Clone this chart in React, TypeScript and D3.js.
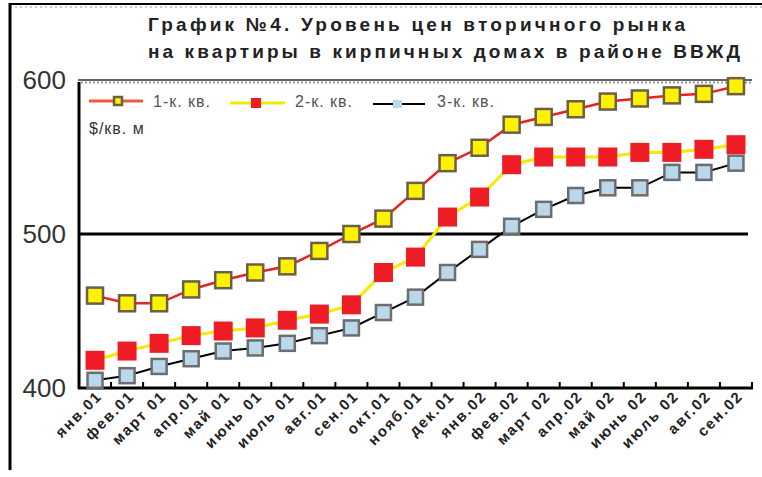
import React from "react";
import * as d3 from "d3";

const categories = ["янв.01","фев.01","март 01","апр.01","май 01","июнь 01","июль 01","авг.01","сен.01","окт.01","нояб.01","дек.01","янв.02","фев.02","март 02","апр.02","май 02","июнь 02","июль 02","авг.02","сен.02"];
const oneRoom = [460,455,455,464,470,475,479,489,500,510,528,546,556,571,576,581,586,588,590,591,596];
const twoRoom = [418,424,429,434,437,439,444,448,454,475,485,511,524,545,550,550,550,553,553,555,558];
const threeRoom = [405,408,414,419,424,426,429,434,439,449,459,475,490,505,516,525,530,530,540,540,546];
const yTicks = [400,500,600];
const legendLabels = ["1-к. кв.","2-к. кв.","3-к. кв."];
const titleLines = ["График №4. Уровень цен вторичного рынка","на квартиры в кирпичных домах в районе ВВЖД"];
const unitLabel = "$/кв. м";

const W = 762, H = 477;
const L = 79, R = 752, T = 80, B = 388;

export default function App() {
  const x = d3.scaleBand<string>().domain(categories).range([L, R]);
  const y = d3.scaleLinear().domain([400, 600]).range([B, T]);
  const cx = (i: number) => (x(categories[i]) as number) + x.bandwidth() / 2;
  const line = d3.line<number>().x((_, i) => cx(i)).y((d) => y(d));
  const font = "Liberation Sans, Arial, sans-serif";

  const yellowSq = (px: number, py: number, s: number, key: any) => (
    <rect key={key} x={px - s / 2} y={py - s / 2} width={s} height={s} fill="#fff200" stroke="#6b5f4a" strokeWidth={2.5} />
  );
  const redSq = (px: number, py: number, s: number, key: any) => (
    <rect key={key} x={px - s / 2} y={py - s / 2} width={s} height={s} fill="#ee1c24" />
  );
  const blueSq = (px: number, py: number, s: number, key: any) => (
    <rect key={key} x={px - s / 2} y={py - s / 2} width={s} height={s} fill="#b9d8ec" stroke="#6d6d6d" strokeWidth={2.5} />
  );

  const boundaries = categories.map((c) => x(c) as number).concat([R]);

  return (
    <svg width={W} height={H} style={{ position: "absolute", left: 0, top: 0, background: "#fff" }} fontFamily={font}>
      {/* outer frame */}
      <line x1={10} x2={W} y1={4} y2={4} stroke="#000" strokeWidth={2} />
      <line x1={10} x2={W} y1={7} y2={7} stroke="#999" strokeWidth={1} strokeDasharray="2,3" />
      <line x1={10} x2={10} y1={3} y2={470} stroke="#000" strokeWidth={3} />

      {/* title */}
      <text x={148} y={31} fontSize={19} fontWeight="bold" fill="#222" textLength={537} lengthAdjust="spacing">{titleLines[0]}</text>
      <text x={148} y={58} fontSize={19} fontWeight="bold" fill="#222" textLength={592} lengthAdjust="spacing">{titleLines[1]}</text>

      {/* gridlines / axes */}
      <line x1={L - 1} x2={R} y1={y(600)} y2={y(600)} stroke="#666" strokeWidth={2} />
      <line x1={L + 2} x2={R} y1={y(600) + 2.5} y2={y(600) + 2.5} stroke="#999" strokeWidth={2} strokeDasharray="2,2" />
      <line x1={L} x2={R - 4} y1={y(500)} y2={y(500)} stroke="#000" strokeWidth={3} />
      <line x1={L} x2={L} y1={y(600) + 2} y2={B + 1} stroke="#000" strokeWidth={3} />
      <line x1={L - 1} x2={R + 1} y1={B} y2={B} stroke="#000" strokeWidth={3} />
      {boundaries.slice(1).map((bx, i) => (
        <line key={"t" + i} x1={bx} x2={bx} y1={B} y2={B - 6} stroke="#000" strokeWidth={2} />
      ))}

      {yTicks.map((t) => (
        <text key={"y" + t} x={66} y={y(t)} dy="0.36em" fontSize={26} textAnchor="end" fill="#333">{t}</text>
      ))}

      {categories.map((c, i) => (
        <text key={"x" + i} transform={`translate(${cx(i) + 8},${B + 9}) rotate(-45)`} fontSize={15} fontWeight="bold" textAnchor="end" fill="#222" letterSpacing={1.8}>{c}</text>
      ))}

      {/* series lines */}
      <path d={line(oneRoom) as string} fill="none" stroke="#e8221e" strokeWidth={2.5} />
      <path d={line(twoRoom) as string} fill="none" stroke="#f6ea00" strokeWidth={3} />
      <path d={line(threeRoom) as string} fill="none" stroke="#000" strokeWidth={2} />

      {oneRoom.map((v, i) => yellowSq(cx(i), y(v), 16, "a" + i))}
      {twoRoom.map((v, i) => redSq(cx(i), y(v), 19, "b" + i))}
      {threeRoom.map((v, i) => blueSq(cx(i), y(v), 15, "c" + i))}

      {/* legend */}
      <line x1={89} x2={143} y1={101} y2={101} stroke="#ef5a3c" strokeWidth={3} />
      {yellowSq(118, 101, 8, "la")}
      <text x={153} y={107} fontSize={16} fill="#555" letterSpacing={1}>{legendLabels[0]}</text>
      <line x1={230} x2={285} y1={103} y2={103} stroke="#f6ea00" strokeWidth={3} />
      {redSq(256, 103, 10, "lb")}
      <text x={295} y={107} fontSize={16} fill="#555" letterSpacing={1}>{legendLabels[1]}</text>
      <line x1={373} x2={425} y1={104} y2={104} stroke="#000" strokeWidth={2} />
      <rect x={393} y={100} width={9} height={8} fill="#b9d8ec" />
      <text x={437} y={107} fontSize={16} fill="#555" letterSpacing={1}>{legendLabels[2]}</text>
      <text x={89} y={134} fontSize={16} fill="#333" letterSpacing={1}>{unitLabel}</text>
    </svg>
  );
}
